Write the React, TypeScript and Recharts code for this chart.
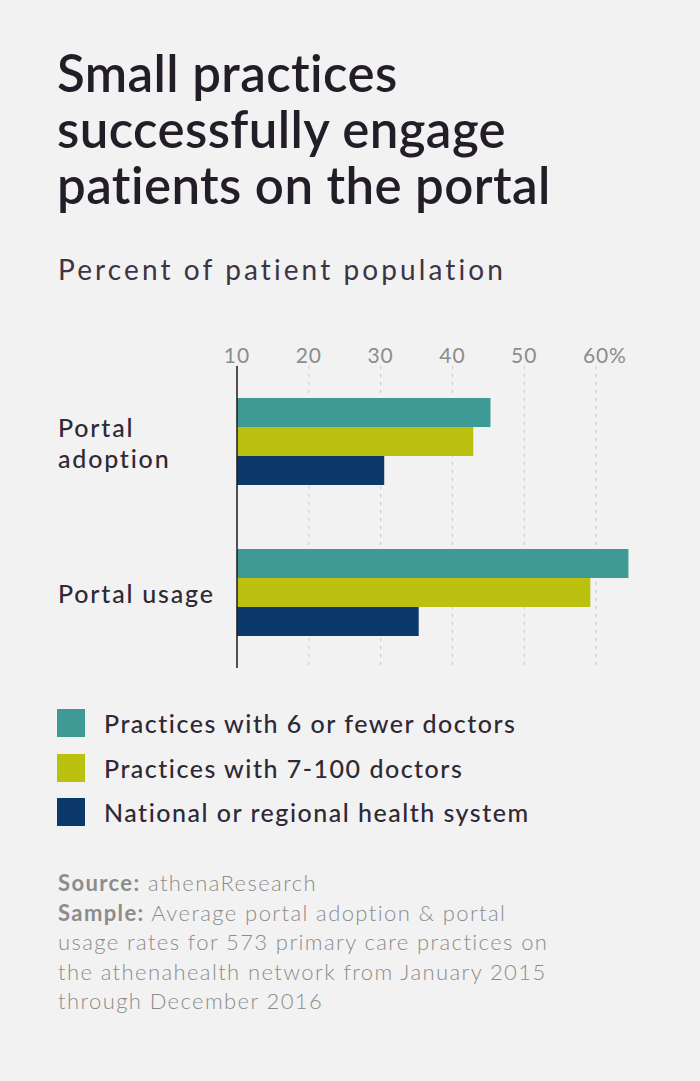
import React from 'react';
import { BarChart, Bar, XAxis, YAxis, CartesianGrid } from 'recharts';

const categories = ['Portal adoption', 'Portal usage'];
const smallPractices = [45.3, 64.5];
const midPractices = [42.9, 59.2];
const healthSystems = [30.5, 35.3];
const xTicks = [10, 20, 30, 40, 50, 60];

const series = [
    { key: 'small', label: 'Practices with 6 or fewer doctors', color: '#3e9a95', values: smallPractices },
    { key: 'mid', label: 'Practices with 7-100 doctors', color: '#bcc110', values: midPractices },
    { key: 'system', label: 'National or regional health system', color: '#0b396b', values: healthSystems },
];

const data = categories.map((name, i) => {
    const row: Record<string, string | number> = { name };
    series.forEach(s => { row[s.key] = s.values[i]; });
    return row;
});

const FONT = 'Lato, "Noto Sans", sans-serif';
const DARK = '#2f2835';

const XTick = (props: any) => {
    const { x, payload } = props;
    const isLast = payload.value === xTicks[xTicks.length - 1];
    return (
        <g>
            <text x={x} y={33} textAnchor="middle" fill="#8c8c8c" fontSize={21} letterSpacing={1} fontFamily={FONT}>
                {payload.value}
            </text>
            {isLast && (
                <text x={x + 13} y={33} textAnchor="start" fill="#8c8c8c" fontSize={21} fontFamily={FONT}>%</text>
            )}
        </g>
    );
};

const YTick = (props: any) => {
    const { y, payload } = props;
    const label: string = payload.value;
    // long labels go on two lines
    const lines = label.length > 13 ? label.split(' ') : [label];
    const start = lines.length > 1 ? y - 5 : y + 10;
    return (
        <text x={58} y={start} textAnchor="start" fill={DARK} fontSize={25} fontWeight={500} letterSpacing={1.8} fontFamily={FONT}>
            {lines.map((l, i) => (
                <tspan key={i} x={58} dy={i === 0 ? 0 : 31}>{l}</tspan>
            ))}
        </text>
    );
};

const App: React.FC = () => {
    return (
        <div style={{ position: 'absolute', top: 0, left: 0, width: 700, height: 1081, background: '#f2f2f2', fontFamily: FONT, overflow: 'hidden' }}>
            <div style={{ position: 'absolute', left: 57, top: 45, fontSize: 51, lineHeight: '56px', fontWeight: 600, color: '#231d28', letterSpacing: 0.4, whiteSpace: 'nowrap' }}>
                Small practices<br />successfully engage<br />patients on the portal
            </div>
            <div style={{ position: 'absolute', left: 58, top: 252, fontSize: 28, lineHeight: '34px', fontWeight: 400, color: '#3d3445', letterSpacing: 3.1, whiteSpace: 'nowrap' }}>
                Percent of patient population
            </div>

            <div style={{ position: 'absolute', left: 0, top: 330 }}>
                <BarChart
                    width={700}
                    height={350}
                    data={data}
                    layout="vertical"
                    margin={{ top: 6, right: 68, left: 0, bottom: 12 }}
                    barGap={0}
                >
                    <CartesianGrid horizontal={false} syncWithTicks stroke="#c9c9c9" strokeDasharray="3 5" />
                    <XAxis
                        type="number"
                        orientation="top"
                        domain={[10, 65]}
                        ticks={xTicks}
                        allowDataOverflow
                        axisLine={false}
                        tickLine={false}
                        height={30}
                        tick={<XTick />}
                    />
                    <YAxis
                        type="category"
                        dataKey="name"
                        width={237}
                        axisLine={{ stroke: '#1e1a22', strokeWidth: 1.5 }}
                        tickLine={false}
                        tick={<YTick />}
                    />
                    {series.map(s => (
                        <Bar key={s.key} dataKey={s.key} name={s.label} fill={s.color} barSize={29} isAnimationActive={false} />
                    ))}
                </BarChart>
            </div>

            {series.map((s, i) => (
                <div key={s.key} style={{ position: 'absolute', left: 57, top: 709 + i * 44.5, height: 28, display: 'flex', alignItems: 'center' }}>
                    <div style={{ width: 28, height: 28, background: s.color, flexShrink: 0 }} />
                    <span style={{ marginLeft: 19, fontSize: 25, fontWeight: 500, color: DARK, letterSpacing: 1.5, whiteSpace: 'nowrap' }}>{s.label}</span>
                </div>
            ))}

            <div style={{ position: 'absolute', left: 58, top: 868, fontSize: 22, lineHeight: '29.5px', fontWeight: 300, color: '#8c8c8c', letterSpacing: 1.4, whiteSpace: 'nowrap' }}>
                <b style={{ fontWeight: 700 }}>Source:</b> athenaResearch<br />
                <b style={{ fontWeight: 700 }}>Sample:</b> Average portal adoption &amp; portal<br />
                usage rates for 573 primary care practices on<br />
                the athenahealth network from January 2015<br />
                through December 2016
            </div>
        </div>
    );
};

export default App;
